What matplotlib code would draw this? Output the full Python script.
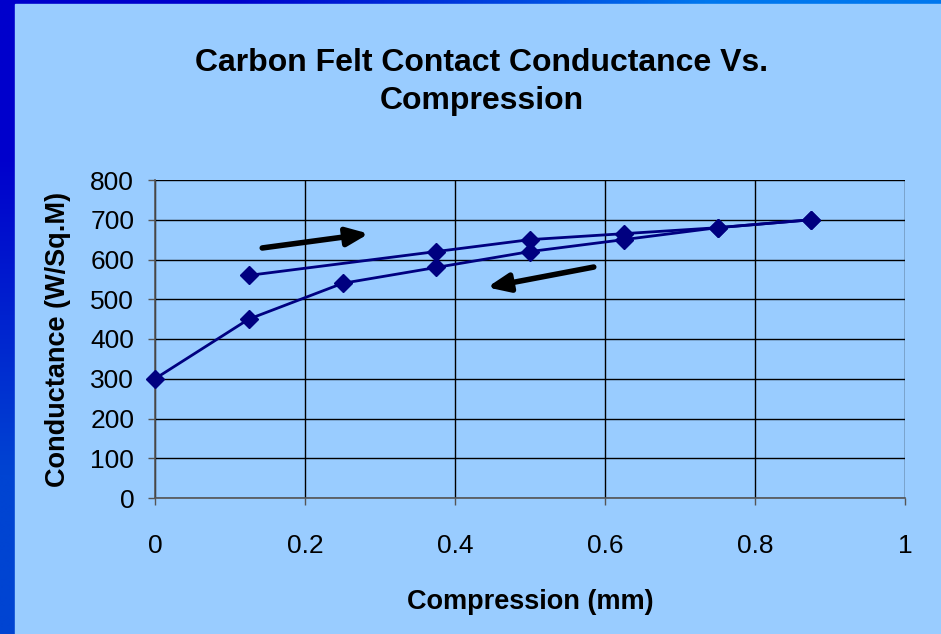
import matplotlib
matplotlib.use("Agg")
import matplotlib.pyplot as plt
import numpy as np
from matplotlib.patches import Rectangle

plt.rcParams["font.family"] = ["Liberation Sans", "DejaVu Sans"]

# loading curve (upper) and unloading curve (lower)
load_x = [0.125, 0.375, 0.5, 0.625, 0.75, 0.875]
load_y = [560, 620, 650, 665, 680, 700]
unload_x = [0.875, 0.75, 0.625, 0.5, 0.375, 0.25, 0.125, 0.0]
unload_y = [700, 680, 650, 620, 580, 540, 450, 300]

# direction arrows (tail, head) in data coords
arrow_up = [(0.143, 629), (0.285, 665)]
arrow_down = [(0.585, 581), (0.443, 530)]

x_ticks = [0, 0.2, 0.4, 0.6, 0.8, 1]
x_tick_labels = ["0", "0.2", "0.4", "0.6", "0.8", "1"]
y_ticks = list(range(0, 801, 100))

BG = "#99CCFF"
NAVY = "#000080"

fig = plt.figure(figsize=(9.41, 6.34), dpi=100)

# slide border: blue gradient strip on top and left
bg_ax = fig.add_axes([0, 0, 1, 1], zorder=-5)
corners = np.array([[[0, 0, 204], [0, 119, 238]],
                    [[0, 68, 210], [0, 100, 230]]]) / 255.0
bg_ax.imshow(corners, extent=[0, 1, 1, 0], interpolation="bilinear", aspect="auto")
bg_ax.add_patch(Rectangle((15 / 941, 4 / 634), 1, 1, color=BG, zorder=2))
bg_ax.set_xlim(0, 1)
bg_ax.set_ylim(1, 0)
bg_ax.axis("off")

ax = fig.add_axes([155 / 941, 1 - 498 / 634, 750 / 941, 318 / 634])
ax.set_facecolor("none")

ax.plot(load_x, load_y, color=NAVY, lw=2, marker="D", ms=9.5, clip_on=False, zorder=3)
ax.plot(unload_x, unload_y, color=NAVY, lw=2, marker="D", ms=9.5, clip_on=False, zorder=3)

for (x0, y0), (x1, y1) in [arrow_up, arrow_down]:
    ax.annotate("", xy=(x1, y1), xytext=(x0, y0),
                arrowprops=dict(arrowstyle="-|>,head_length=1.3,head_width=0.55",
                                color="black", lw=4, shrinkA=0, shrinkB=0))

ax.set_xlim(0, 1)
ax.set_ylim(0, 800)
ax.set_xticks(x_ticks)
ax.set_xticklabels(x_tick_labels)
ax.set_yticks(y_ticks)
ax.grid(True, color="black", lw=1)
ax.set_axisbelow(True)
for s in ["top", "right"]:
    ax.spines[s].set_visible(False)
for s in ["left", "bottom"]:
    ax.spines[s].set_color("#555555")
    ax.spines[s].set_linewidth(1.2)
ax.tick_params(axis="both", direction="out", length=5, width=1, color="#555555",
               labelsize=19)
ax.tick_params(axis="x", pad=21)
ax.tick_params(axis="y", pad=10)

ax.set_xlabel("Compression (mm)", fontsize=19.5, fontweight="bold", labelpad=22)
ax.set_ylabel("Conductance (W/Sq.M)", fontsize=19.5, fontweight="bold", labelpad=14)

fig.text(482 / 941, 1 - 82 / 634, "Carbon Felt Contact Conductance Vs.\nCompression",
         ha="center", va="center", fontsize=23, fontweight="bold", linespacing=1.35)

fig.savefig("out.png", dpi=100)
